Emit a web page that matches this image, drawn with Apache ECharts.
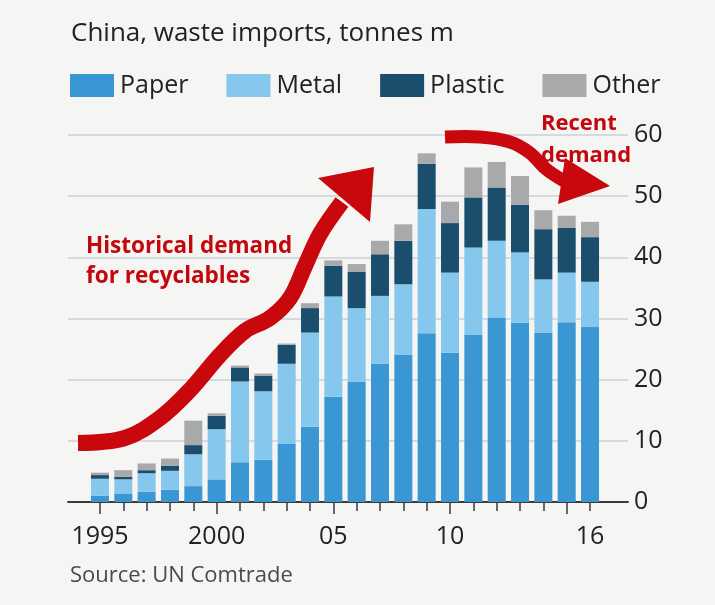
<!DOCTYPE html>
<html>
<head>
<meta charset="utf-8">
<script src="https://cdn.jsdelivr.net/npm/echarts@6/dist/echarts.min.js"></script>
<style>
html,body{margin:0;padding:0;background:#f5f5f4;}
#c{width:715px;height:605px;}
</style>
</head>
<body>
<div id="c"></div>
<script>
var years = ['1995','1996','1997','1998','1999','2000','2001','2002','2003','2004','2005','2006','2007','2008','2009','2010','2011','2012','2013','2014','2015','2016'];
var tickLabels = ['1995','','','','','2000','','','','','05','','','','','10','','','','','','16'];
var paper   = [1.0,1.4,1.7,2.0,2.6,3.7,6.5,6.9,9.5,12.3,17.2,19.7,22.6,24.1,27.6,24.4,27.3,30.1,29.3,27.7,29.4,28.6];
var metal   = [2.8,2.3,3.0,3.1,5.2,8.2,13.2,11.2,13.1,15.4,16.4,12.0,11.1,11.5,20.3,13.1,14.3,12.6,11.5,8.7,8.1,7.4];
var plastic = [0.6,0.4,0.5,0.8,1.5,2.2,2.3,2.5,3.1,4.0,5.0,5.9,6.8,7.1,7.4,8.1,8.2,8.7,7.8,8.2,7.3,7.3];
var other   = [0.4,1.1,1.1,1.2,4.0,0.4,0.3,0.4,0.2,0.8,0.9,1.3,2.2,2.7,1.7,3.5,4.9,4.2,4.7,3.1,2.0,2.5];
var yTicks = [0,10,20,30,40,50,60];

var FONT = 'Open Sans';
var RED = '#c4070c';
var chart = echarts.init(document.getElementById('c'));

function bar(name, data, color) {
  return {
    name: name, type: 'bar', stack: 'total', data: data,
    xAxisIndex: 0, yAxisIndex: 0, barWidth: 18,
    itemStyle: { color: color },
    emphasis: { disabled: true }
  };
}

chart.setOption({
  backgroundColor: '#f5f5f4',
  animation: false,
  textStyle: { fontFamily: FONT },
  title: {
    text: 'China, waste imports, tonnes m',
    left: 66, top: 16,
    textStyle: { fontFamily: FONT, fontSize: 26, fontWeight: 'normal', color: '#222222' }
  },
  legend: {
    left: 70, top: 73, padding: 0,
    icon: 'rect', itemWidth: 44, itemHeight: 23, itemGap: 38,
    textStyle: { fontFamily: FONT, fontSize: 25, color: '#222222', padding: [0, 0, 0, 1] },
    data: ['Paper', 'Metal', 'Plastic', 'Other']
  },
  grid: [
    { left: 88.3, right: 113.3, top: 135, bottom: 103 },
    { left: 68, right: 87, top: 135, bottom: 103 }
  ],
  xAxis: [
    {
      type: 'category', data: years, gridIndex: 0, position: 'bottom',
      axisLine: { show: false },
      axisTick: { show: true, alignWithLabel: true, length: 9, lineStyle: { color: '#3a3a3a', width: 1.5 } },
      axisLabel: {
        interval: 0, margin: 22, fontFamily: FONT, fontSize: 25, color: '#222222',
        formatter: function (v, i) { return tickLabels[i]; }
      }
    },
    {
      type: 'value', gridIndex: 1, min: 0, max: 1, position: 'bottom',
      axisLine: { show: true, lineStyle: { color: '#3a3a3a', width: 2 } },
      axisTick: { show: false }, axisLabel: { show: false }, splitLine: { show: false }
    },
    {
      type: 'category', data: years, gridIndex: 0, position: 'bottom',
      axisLine: { show: false },
      axisTick: { show: true, alignWithLabel: true, length: 12,
        interval: function (i) { return i % 5 === 0; },
        lineStyle: { color: '#3a3a3a', width: 1.5 } },
      axisLabel: { show: false }
    }
  ],
  yAxis: [
    {
      type: 'value', gridIndex: 0, min: 0, max: 60, interval: 10,
      show: false, splitLine: { show: false }
    },
    {
      type: 'value', gridIndex: 1, min: 0, max: 60, interval: 10, position: 'right',
      axisLine: { show: false }, axisTick: { show: false },
      axisLabel: {
        margin: 6, fontFamily: FONT, fontSize: 25, color: '#222222',
        formatter: function (v) { return yTicks.indexOf(v) >= 0 ? String(v) : ''; }
      },
      splitLine: { show: true, lineStyle: { color: '#c8d0d8', width: 1.5 } }
    }
  ],
  series: [
    bar('Paper', paper, '#3b97d3'),
    bar('Metal', metal, '#86c7ed'),
    bar('Plastic', plastic, '#1b4d6d'),
    bar('Other', other, '#a8a9ab')
  ],
  graphic: [
    {
      type: 'text', left: 86, top: 232, z: 10,
      style: { text: 'Historical demand\nfor recyclables', fill: RED, font: 'bold 22.5px "Open Sans"', lineHeight: 30 }
    },
    {
      type: 'text', left: 541, top: 108, z: 10,
      style: { text: 'Recent\ndemand', fill: RED, font: 'bold 22px "Open Sans"', lineHeight: 32 }
    },
    {
      type: 'polyline', z: 20,
      shape: { points: [[78,443],[125,438],[160,418],[190,390],[220,355],[245,331],[270,318],[290,298],[305,266],[320,234],[342,202]], smooth: 0.35 },
      style: { stroke: '#c8080c', lineWidth: 16, fill: null, lineCap: 'butt' }
    },
    {
      type: 'polygon', z: 20,
      shape: { points: [[318,178],[374,167],[370,222]] },
      style: { fill: '#c8080c' }
    },
    {
      type: 'polyline', z: 20,
      shape: { points: [[445,137],[480,137],[510,142],[530,153],[546,169],[564,181]], smooth: 0.35 },
      style: { stroke: '#c8080c', lineWidth: 13, fill: null, lineCap: 'butt' }
    },
    {
      type: 'polygon', z: 20,
      shape: { points: [[565,158],[610,186],[558,204]] },
      style: { fill: '#c8080c' }
    },
    {
      type: 'text', left: 70, top: 565, z: 10,
      style: { text: 'Source: UN Comtrade', fill: '#4a4a4a', font: '22px "Open Sans"' }
    }
  ]
});
</script>
</body>
</html>
